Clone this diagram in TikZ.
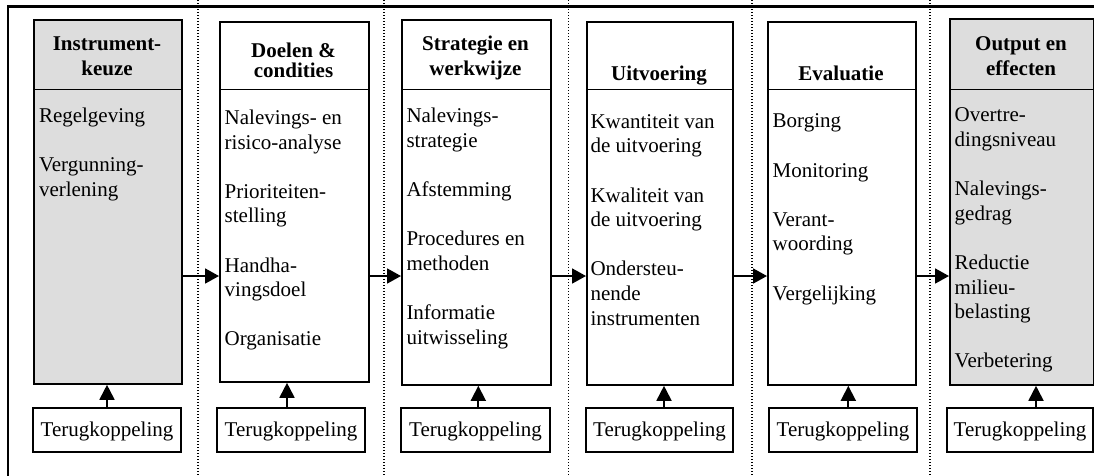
\documentclass[tikz,border=0pt]{standalone}
\usepackage{fontspec}
\setmainfont{Liberation Serif}
\usetikzlibrary{arrows.meta}
\definecolor{boxgray}{RGB}{221,221,221}
\newcommand\tstrut{\rule{0pt}{16pt}}
\begin{document}
\begin{tikzpicture}[x=1pt,y=-1pt,
  font=\fontsize{21}{24.6}\selectfont,
  mainbox/.style={draw, line width=1.8pt, anchor=north west, inner sep=0pt},
  divline/.style={line width=1.8pt},
  head/.style={font=\fontsize{21}{25}\selectfont\bfseries, align=center, inner sep=0pt, anchor=north},
  body/.style={align=left, inner sep=0pt, anchor=north west},
  fbbox/.style={draw, line width=1.8pt, minimum height=44pt, inner sep=0pt, text height=16pt, text depth=3pt},
  harr/.style={line width=1.8pt, -{Triangle[length=14pt,width=15pt]}},
  varr/.style={line width=1.8pt, -{Triangle[length=15pt,width=15pt]}},
  dotline/.style={line width=1.3pt, dash pattern=on 1.3pt off 1.7pt},
  frame/.style={line width=2.2pt}]
\useasboundingbox (0,0) rectangle (1094,475);
\clip (0,0) rectangle (1094,475);
\fill[white] (0,0) rectangle (1094,475);

% outer frame (cropped at right and bottom)
\draw[frame] (8,6.5) rectangle (1130,510);

% dotted separators
\foreach \xx in {198,384,568.5,752,930}
  \draw[dotline] (\xx,0) -- (\xx,475);

% helper coordinates
\coordinate (dv) at (0,89.5);
\coordinate (ay) at (0,276);

% main boxes
\node[mainbox, fill=boxgray, minimum width=148pt, minimum height=364pt] (b1) at (33,19) {};
\node[mainbox, fill=white, minimum width=149pt, minimum height=360pt] (b2) at (219,21) {};
\node[mainbox, fill=white, minimum width=149pt, minimum height=365pt] (b3) at (401,19) {};
\node[mainbox, fill=white, minimum width=146pt, minimum height=363pt] (b4) at (586,21) {};
\node[mainbox, fill=white, minimum width=148pt, minimum height=363pt] (b5) at (767,21) {};
\node[mainbox, fill=boxgray, minimum width=144pt, minimum height=366pt] (b6) at (949,18) {};

\foreach \b in {b1,b2,b3,b4,b5,b6}
  \draw[divline] (\b.west |- dv) -- (\b.east |- dv);

% headers
\node[head] (h1) at (107,34.3) {\tstrut Instrument-\\keuze};
\node[head] (h2) at (293.5,41) {\tstrut Doelen \&\\[-5pt]condities};
\node[head] (h3) at (475.5,34.3) {\tstrut Strategie en\\werkwijze};
\node[head] (h4) at (659,64) {\tstrut Uitvoering};
\node[head] (h5) at (841,64) {\tstrut Evaluatie};
\node[head] (h6) at (1021,34.3) {\tstrut Output en\\effecten};

% bodies
\node[body] (t1) at (38.8,106) {\tstrut Regelgeving\\[24.6pt]Vergunning-\\verlening};
\node[body] (t2) at (224.5,108.3) {\tstrut Nalevings- en\\risico-analyse\\[24.6pt]Prioriteiten-\\stelling\\[24.6pt]Handha-\\vingsdoel\\[24.6pt]Organisatie};
\node[body] (t3) at (406.3,106.7) {\tstrut Nalevings-\\strategie\\[24.6pt]Afstemming\\[24.6pt]Procedures en\\methoden\\[24.6pt]Informatie\\uitwisseling};
\node[body] (t4) at (590.3,112) {\tstrut Kwantiteit van\\de uitvoering\\[24.6pt]Kwaliteit van\\de uitvoering\\[24.6pt]Ondersteu-\\nende\\instrumenten};
\node[body] (t5) at (772.5,111.7) {\tstrut Borging\\[24.6pt]Monitoring\\[24.6pt]Verant-\\woording\\[24.6pt]Vergelijking};
\node[body] (t6) at (954.5,105.7) {\tstrut Overtre-\\dingsniveau\\[24.6pt]Nalevings-\\gedrag\\[24.6pt]Reductie\\milieu-\\belasting\\[24.6pt]Verbetering};

% feedback boxes
\node[fbbox, fill=white, minimum width=148pt] (f1) at (107,430) {Terugkoppeling};
\node[fbbox, fill=white, minimum width=148pt] (f2) at (291,430) {Terugkoppeling};
\node[fbbox, fill=white, minimum width=149pt] (f3) at (475.5,430) {Terugkoppeling};
\node[fbbox, fill=white, minimum width=147pt] (f4) at (659.5,430) {Terugkoppeling};
\node[fbbox, fill=white, minimum width=148pt] (f5) at (843,430) {Terugkoppeling};
\node[fbbox, fill=white, minimum width=146pt] (f6) at (1020,430) {Terugkoppeling};

% feedback arrows
\coordinate (u1) at (107,0);
\coordinate (u2) at (287,0);
\coordinate (u3) at (478.3,0);
\coordinate (u4) at (664,0);
\coordinate (u5) at (848.3,0);
\coordinate (u6) at (1036,0);
\draw[varr] (f1.north -| u1) -- (b1.south -| u1);
\draw[varr] (f2.north -| u2) -- (b2.south -| u2);
\draw[varr] (f3.north -| u3) -- (b3.south -| u3);
\draw[varr] (f4.north -| u4) -- (b4.south -| u4);
\draw[varr] (f5.north -| u5) -- (b5.south -| u5);
\draw[varr] (f6.north -| u6) -- (b6.south -| u6);

% flow arrows
\draw[harr] (b1.east |- ay) -- (b2.west |- ay);
\draw[harr] (b2.east |- ay) -- (b3.west |- ay);
\draw[harr] (b3.east |- ay) -- (b4.west |- ay);
\draw[harr] (b4.east |- ay) -- (b5.west |- ay);
\draw[harr] (b5.east |- ay) -- (b6.west |- ay);
\end{tikzpicture}
\end{document}
